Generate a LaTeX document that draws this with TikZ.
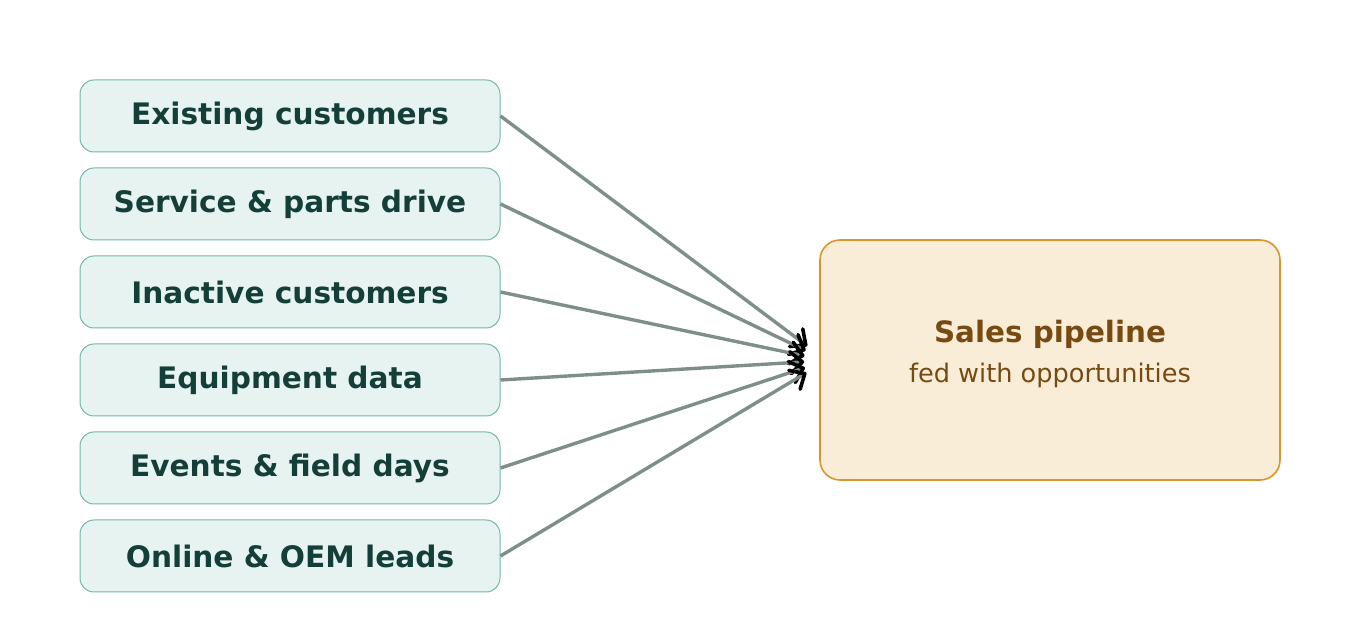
\documentclass[tikz,border=0pt]{standalone}
\usepackage{fontspec}
\setmainfont{DejaVu Sans}
\usetikzlibrary{arrows.meta,positioning}
\definecolor{Ink}{HTML}{143F39}
\definecolor{Mint}{HTML}{E7F3F0}
\definecolor{MintEdge}{HTML}{72B8AD}
\definecolor{Cream}{HTML}{FAEDD8}
\definecolor{Ochre}{HTML}{D9962C}
\definecolor{Brown}{HTML}{774A12}
\definecolor{Wire}{HTML}{7E8E88}
\tikzset{
  source/.style={draw=MintEdge,fill=Mint,line width=.5pt,rounded corners=7pt,minimum width=210pt,minimum height=36pt,font=\fontsize{14.8}{17}\selectfont\bfseries,text=Ink,align=center},
  target/.style={draw=Ochre,fill=Cream,line width=.8pt,rounded corners=10pt,minimum width=230pt,minimum height=120pt,text=Brown,align=center},
  feed/.style={draw=Wire,line width=1.7pt,shorten >=7.5pt,-{Straight Barb[color=black,length=6pt,width=11pt,line width=1.8pt,round]}}
}
\begin{document}
\begin{tikzpicture}[x=.5pt,y=-.5pt,node distance=7.5pt]
      \useasboundingbox (0,0) rectangle (1360,640);
      \node[source] (existing) at (290,116) {Existing customers};
      \node[source,below=of existing] (service) {Service \& parts drive};
      \node[source,below=of service] (inactive) {Inactive customers};
      \node[source,below=of inactive] (equipment) {Equipment data};
      \node[source,below=of equipment] (events) {Events \& field days};
      \node[source,below=of events] (online) {Online \& OEM leads};
      \node[target] (pipeline) at (1050,360) {};
      \node[font=\fontsize{14.7}{17}\selectfont\bfseries,text=Brown] (title) at (1050,334) {Sales pipeline};
      \node[font=\fontsize{12.8}{15}\selectfont,text=Brown] (sub) at (1050,375) {fed with opportunities};
      % inputs fan into the left side of the pipeline
      \draw[feed] (existing.east) -- ([yshift=2.5pt]pipeline.west);
      \draw[feed] (service.east) -- ([yshift=1.5pt]pipeline.west);
      \draw[feed] (inactive.east) -- ([yshift=.5pt]pipeline.west);
      \draw[feed] (equipment.east) -- ([yshift=-.5pt]pipeline.west);
      \draw[feed] (events.east) -- ([yshift=-1.5pt]pipeline.west);
      \draw[feed] (online.east) -- ([yshift=-2.5pt]pipeline.west);
    \end{tikzpicture}
\end{document}
